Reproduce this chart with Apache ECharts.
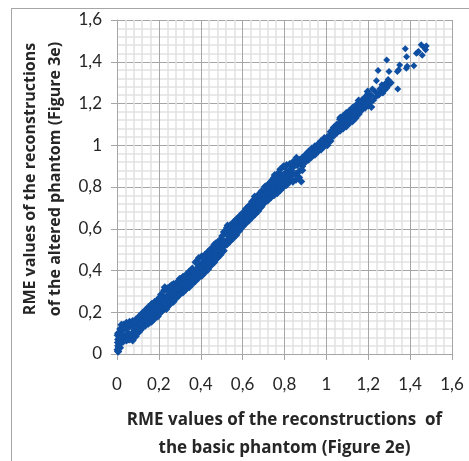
<!DOCTYPE html>
<html>
<head>
<meta charset="utf-8">
<script src="https://cdn.jsdelivr.net/npm/echarts@6/dist/echarts.min.js"></script>
<style>
  html, body { margin: 0; padding: 0; background: #fff; }
  #frame { position: absolute; left: 11px; top: 8px; right: 0; bottom: 0; border-left: 1px solid #a6a6a6; border-top: 1px solid #a6a6a6; }
  #chart { position: absolute; left: 0; top: 0; width: 469px; height: 461px; }
</style>
</head>
<body>
<div id="frame"></div>
<div id="chart"></div>
<script>
// values, four points per column of the band
const bandX = [
  .005, .015, .03, .045, .06, .075, .09, .105, .12, .135, .15, .165, .18, .195, .21, .225, .24, .255, .27, .285,
  .3, .315, .33, .345, .36, .375, .39, .405, .42, .435, .45, .465, .48, .495, .51, .525, .54, .555, .57, .585,
  .6, .615, .63, .645, .66, .675, .69, .705, .72, .735, .75, .765, .78, .795, .81, .825, .84, .855, .87, .885,
  .9, .915, .93, .945, .96, .975, .99, 1.005, 1.02, 1.035, 1.05, 1.065, 1.08, 1.095, 1.11, 1.125, 1.14, 1.155, 1.17, 1.185, 1.2
]
const bandLower = [
  .012, .03, .06, .065, .07, .072, .085, .105, .125, .135, .145, .155, .17, .18, .2, .215, .225, .24, .25, .27,
  .285, .295, .31, .32, .335, .35, .365, .375, .39, .405, .425, .44, .46, .475, .495, .525, .54, .555, .57, .59,
  .61, .625, .64, .655, .67, .685, .705, .725, .735, .75, .76, .77, .785, .8, .81, .825, .825, .835, .845, .88,
  .92, .93, .945, .955, .97, .98, .995, 1, 1.02, 1.045, 1.06, 1.07, 1.08, 1.09, 1.105, 1.115, 1.13, 1.15, 1.17, 1.18, 1.19
]
const bandLowerMid = [
  .04, .055, .085, .09, .095, .1, .11, .13, .145, .16, .17, .18, .195, .205, .225, .24, .25, .265, .275, .295,
  .305, .32, .335, .345, .36, .37, .385, .4, .415, .43, .445, .46, .48, .495, .515, .545, .56, .575, .59, .605,
  .625, .64, .66, .675, .69, .705, .72, .74, .755, .77, .785, .8, .81, .825, .84, .85, .86, .865, .875, .9,
  .93, .94, .955, .965, .98, .99, 1.005, 1.015, 1.035, 1.055, 1.07, 1.085, 1.095, 1.11, 1.125, 1.135, 1.15, 1.165, 1.18, 1.195, 1.205
]
const bandUpperMid = [
  .07, .085, .115, .125, .13, .135, .145, .16, .17, .185, .195, .21, .225, .235, .255, .27, .28, .295, .305, .32,
  .335, .345, .355, .37, .385, .4, .42, .435, .445, .46, .475, .49, .505, .52, .54, .575, .585, .6, .615, .63,
  .65, .665, .685, .7, .715, .73, .75, .77, .785, .8, .815, .83, .845, .86, .87, .88, .895, .905, .915, .925,
  .94, .955, .97, .98, .99, 1.005, 1.02, 1.03, 1.05, 1.07, 1.085, 1.105, 1.115, 1.13, 1.145, 1.155, 1.165, 1.18, 1.195, 1.21, 1.225
]
const bandUpper = [
  .1, .12, .14, .15, .155, .158, .165, .18, .195, .21, .225, .24, .25, .26, .285, .305, .315, .325, .335, .34,
  .36, .37, .38, .395, .41, .44, .46, .468, .475, .49, .505, .525, .535, .55, .585, .605, .615, .63, .645, .66,
  .675, .695, .71, .73, .745, .76, .78, .8, .81, .825, .845, .86, .885, .9, .905, .91, .92, .925, .93, .94,
  .955, .97, .985, .995, 1.005, 1.02, 1.035, 1.04, 1.065, 1.085, 1.1, 1.125, 1.14, 1.155, 1.165, 1.18, 1.19, 1.2, 1.215, 1.23, 1.245
]
// in-between columns, where the band is thickest
const fillX = [
  .0225, .0525, .0825, .1125, .1425, .1725, .2025, .2325, .2625, .2925, .3225, .3525, .3825, .4125, .4425,
  .4725, .5025, .5325, .5625, .5925, .6225, .6525, .6825, .7125, .7425, .7725, .8025, .8325, .8625
]
const fillLower = [
  .055, .07, .085, .115, .145, .165, .195, .225, .25, .28, .305, .335, .365, .39, .42,
  .455, .49, .535, .57, .605, .64, .67, .7, .735, .765, .785, .81, .835, .85
]
const fillMid = [
  .09, .1, .115, .145, .175, .2, .225, .26, .285, .315, .34, .37, .4, .425, .455,
  .49, .525, .565, .6, .635, .67, .7, .735, .77, .8, .825, .85, .88, .905
]
const fillUpper = [
  .125, .14, .155, .175, .21, .24, .27, .31, .33, .35, .37, .4, .445, .465, .495,
  .53, .565, .6, .635, .665, .7, .735, .77, .805, .835, .87, .895, .91, .925
]
// single points at the origin and along the edges of the band
const edgeX = [
  .002, .004, .008, .003, .01, .006, .021, .075, .171, .236, .228, .528, .658,
  .737, .753, .857, .88, 1.067, 1.154, 1.197, 1.215
]
const edgeY = [
  .02, .055, .03, .09, .075, .012, .14, .065, .165, .215, .32, .615, .754,
  .826, .858, .94, .826, 1.133, 1.214, 1.257, 1.183
]
// the sparse end of the cloud
const tailX = [
  1.21, 1.215, 1.22, 1.225, 1.23, 1.235, 1.239, 1.24, 1.25, 1.255, 1.26, 1.265, 1.27, 1.275, 1.28, 1.285, 1.29, 1.295, 1.3, 1.31, 1.247, 1.288, 1.299,
  1.341, 1.339, 1.345, 1.35, 1.382, 1.386, 1.377, 1.383, 1.418, 1.43, 1.436, 1.44, 1.453, 1.458, 1.465, 1.474, 1.477
]
const tailY = [
  1.205, 1.24, 1.27, 1.215, 1.26, 1.23, 1.309, 1.25, 1.24, 1.27, 1.255, 1.29, 1.25, 1.28, 1.265, 1.3, 1.275, 1.315, 1.29, 1.3, 1.358, 1.408, 1.353,
  1.27, 1.353, 1.362, 1.384, 1.369, 1.378, 1.462, 1.424, 1.381, 1.441, 1.445, 1.449, 1.481, 1.431, 1.47, 1.457, 1.476
]
const tickLabel = v => String(Number(v.toFixed(1))).replace('.', ',')

const cloud = []
bandX.forEach((x, i) => {
  cloud.push([x, bandLower[i]], [x, bandLowerMid[i]], [x, bandUpperMid[i]], [x, bandUpper[i]])
})
fillX.forEach((x, i) => {
  cloud.push([x, fillLower[i]], [x, fillMid[i]], [x, fillUpper[i]])
})
edgeX.forEach((x, i) => cloud.push([x, edgeY[i]]))
const tail = tailX.map((x, i) => [x, tailY[i]])

const axisCommon = {
  type: 'value',
  min: 0,
  max: 1.6,
  interval: 0.2,
  nameLocation: 'middle',
  axisLine: { show: true, onZero: false, lineStyle: { color: '#a6a6a6', width: 1 } },
  axisTick: { show: true, length: 6, lineStyle: { color: '#a6a6a6' } },
  axisLabel: { fontFamily: 'Lato', fontSize: 17, color: '#262626', formatter: tickLabel, showMaxLabel: true },
  splitLine: { show: true, lineStyle: { color: '#a6a6a6', width: 1 } },
  minorTick: { show: false, splitNumber: 5 },
  minorSplitLine: { show: true, lineStyle: { color: '#e2e2e2', width: 1.5 } },
}
const nameStyle = { fontFamily: 'Open Sans', fontWeight: 'bold', color: '#262626' }

const mychart = echarts.init(document.getElementById('chart'), null, { renderer: 'canvas' })
mychart.setOption({
  animation: false,
  backgroundColor: 'transparent',
  grid: { left: 117, right: 17, top: 20, bottom: 107, containLabel: false, outerBoundsMode: 'none' },
  xAxis: {
    ...axisCommon,
    name: 'RME values of the reconstructions  of\nthe basic phantom (Figure 2e)',
    nameGap: 52,
    nameTextStyle: { ...nameStyle, fontSize: 17, lineHeight: 28 },
    axisLabel: { ...axisCommon.axisLabel, margin: 22 },
  },
  yAxis: {
    ...axisCommon,
    name: 'RME values of the reconstructions\nof the altered phantom (Figure 3e)',
    nameGap: 47,
    nameTextStyle: { ...nameStyle, fontSize: 16, lineHeight: 25, padding: [0, 0, 0, 16] },
    axisLabel: { ...axisCommon.axisLabel, margin: 15 },
  },
  series: [
    {
      type: 'scatter',
      symbol: 'diamond',
      symbolSize: 8,
      itemStyle: { color: '#0f4fa2', opacity: 1 },
      data: cloud,
    },
    {
      type: 'scatter',
      symbol: 'diamond',
      symbolSize: 7,
      itemStyle: { color: '#0f4fa2', opacity: 1 },
      data: tail,
    },
  ],
})
</script>
</body>
</html>
